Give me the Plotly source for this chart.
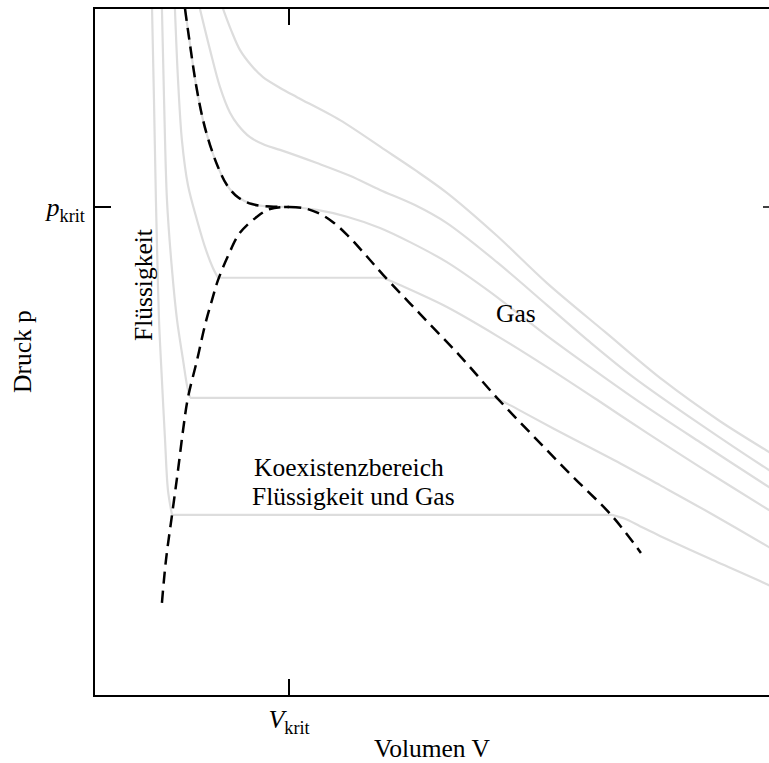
import plotly.graph_objects as go

# ---- data (V in units of V_krit, p in units of p_krit) ----
# subcritical isotherms (liquid branch, flat coexistence segment, gas branch)
T1_V = [0.294, 0.304, 0.314, 0.320, 0.330, 0.345, 0.361, 0.376, 0.397,
        2.665, 2.732, 2.809, 2.912, 3.170, 3.474, 3.515]
T1_p = [1.406, 1.219, 1.014, 0.912, 0.768, 0.645, 0.523, 0.420, 0.369,
        0.369, 0.361, 0.346, 0.326, 0.279, 0.225, 0.217]

T2_V = [0.345, 0.356, 0.371, 0.397, 0.423, 0.454, 0.474, 0.490,
        2.062, 2.139, 2.242, 2.397, 2.706, 2.912, 3.170, 3.474, 3.515]
T2_p = [1.406, 1.219, 1.014, 0.871, 0.768, 0.686, 0.635, 0.609,
        0.609, 0.594, 0.572, 0.539, 0.475, 0.430, 0.373, 0.303, 0.293]

T3_V = [0.412, 0.428, 0.448, 0.479, 0.526, 0.572, 0.608, 0.634,
        1.485, 1.572, 1.814, 2.072, 2.330, 2.588, 2.845, 3.119, 3.474, 3.515]
T3_p = [1.406, 1.260, 1.137, 1.045, 0.973, 0.912, 0.875, 0.855,
        0.855, 0.840, 0.795, 0.736, 0.672, 0.605, 0.537, 0.467, 0.379, 0.369]

# critical isotherm
T4_V = [0.464, 0.490, 0.521, 0.557, 0.593, 0.634, 0.680, 0.737, 0.809, 0.902, 1.000,
        1.144, 1.299, 1.469, 1.624, 1.814, 2.036, 2.330, 2.629, 2.845, 3.119, 3.474, 3.515]
T4_p = [1.406, 1.332, 1.250, 1.178, 1.127, 1.082, 1.045, 1.020, 1.006, 1.001, 1.000,
        0.994, 0.980, 0.957, 0.928, 0.887, 0.826, 0.736, 0.650, 0.590, 0.518, 0.426, 0.416]

# supercritical isotherms
T5_V = [0.541, 0.593, 0.644, 0.696, 0.737, 0.799, 0.876, 0.954, 1.144, 1.314, 1.469,
        1.649, 1.814, 2.072, 2.330, 2.552, 2.773, 3.119, 3.474, 3.515]
T5_p = [1.406, 1.322, 1.246, 1.193, 1.168, 1.143, 1.127, 1.117, 1.090, 1.064, 1.035,
        1.004, 0.967, 0.887, 0.799, 0.723, 0.652, 0.555, 0.461, 0.451]

T6_V = [0.660, 0.701, 0.747, 0.804, 0.866, 0.954, 1.041, 1.263, 1.495, 1.649,
        1.814, 2.072, 2.330, 2.629, 2.928, 3.222, 3.474, 3.515]
T6_p = [1.406, 1.363, 1.322, 1.291, 1.266, 1.244, 1.225, 1.178, 1.117, 1.076,
        1.029, 0.941, 0.844, 0.744, 0.645, 0.561, 0.498, 0.488]

# coexistence curve (binodal)
liq_V = [0.345, 0.366, 0.397, 0.428, 0.454, 0.479, 0.526, 0.567, 0.603, 0.634, 0.686,
         0.747, 0.835, 0.902, 1.000]
liq_p = [0.189, 0.277, 0.369, 0.461, 0.543, 0.609, 0.686, 0.758, 0.809, 0.850, 0.900,
         0.947, 0.980, 0.996, 1.000]
gas_V = [1.000, 1.072, 1.149, 1.227, 1.304, 1.381, 1.485, 1.675, 1.881, 2.072, 2.268,
         2.464, 2.665, 2.814]
gas_p = [1.000, 0.998, 0.988, 0.969, 0.941, 0.908, 0.861, 0.781, 0.695, 0.609, 0.527,
         0.447, 0.367, 0.291]

V_krit = 1.0
p_krit = 1.0
x_tick_text = ["<i>V</i><sub>krit</sub>"]
y_tick_text = ["<i>p</i><sub>krit</sub>"]

# ---- figure ----
FONT = "Liberation Serif, Times New Roman, serif"
GRAY = "rgb(221,221,221)"
fig = go.Figure()


def gray_line(V, p, shape="spline"):
    fig.add_trace(go.Scatter(x=V, y=p, mode="lines",
                             line=dict(color=GRAY, width=2.2, shape=shape, smoothing=0.9),
                             hoverinfo="skip", showlegend=False))


for V, p in [(T1_V, T1_p), (T2_V, T2_p), (T3_V, T3_p)]:
    k = next(i for i in range(len(p) - 1) if p[i] == p[i + 1])
    gray_line(V[:k + 1], p[:k + 1])
    gray_line(V[k:k + 2], p[k:k + 2], shape="linear")
    gray_line(V[k + 1:], p[k + 1:])

for V, p in [(T4_V, T4_p), (T5_V, T5_p), (T6_V, T6_p)]:
    gray_line(V, p)

DASH = dict(color="black", width=2.5, dash="12px,7px", shape="spline", smoothing=1.0)
n_left = T4_V.index(V_krit) + 1
for V, p in [(T4_V[:n_left], T4_p[:n_left]), (liq_V, liq_p), (gas_V, gas_p)]:
    fig.add_trace(go.Scatter(x=V, y=p, mode="lines", line=DASH,
                             hoverinfo="skip", showlegend=False))

W, H = 769, 763
L, R, T, B = 95, 0, 9, 68
plot_w = W - L - R
plot_h = H - T - B
x_range = [0, plot_w / 194]
y_range = [0, plot_h / 488]

axis_common = dict(showgrid=False, zeroline=False, showline=True, linecolor="black",
                   linewidth=2, ticks="inside", ticklen=16, tickwidth=1.5, tickcolor="black",
                   tickfont=dict(family=FONT, size=26, color="black"))

fig.update_xaxes(range=x_range, tickvals=[V_krit], ticktext=x_tick_text, mirror="ticks",
                 **axis_common)
fig.update_yaxes(range=y_range, tickvals=[p_krit], ticktext=y_tick_text, mirror=False,
                 ticklabelstandoff=3, **axis_common)

# short right-hand tick at p_krit (the right frame edge lies at the window border)
fig.add_shape(type="line", xref="paper", yref="y", x0=1 - 6 / plot_w, x1=1,
              y0=p_krit, y1=p_krit, line=dict(color="black", width=1.5))

ann_font = dict(family=FONT, size=25.5, color="black")


def note(text, x, y, ref="data", angle=0):
    kw = dict(xref="paper", yref="paper") if ref == "paper" else {}
    fig.add_annotation(text=text, x=x, y=y, textangle=angle, showarrow=False,
                       xanchor="center", yanchor="middle", font=ann_font, **kw)


note("Druck p", -(L - 22) / plot_w, 0.5 - (352 - T - plot_h / 2) / plot_h, ref="paper", angle=-90)
note("Volumen V", (432 - L) / plot_w, -(748 - (H - B)) / plot_h, ref="paper")
note("Flüssigkeit", 0.247, 0.84, angle=-90)
note("Gas", 2.17, 0.781)
note("Koexistenzbereich", 1.309, 0.467)
note("Flüssigkeit und Gas", 1.330, 0.406)

fig.update_layout(width=W, height=H, margin=dict(l=L, r=R, t=T, b=B, autoexpand=False),
                  paper_bgcolor="white", plot_bgcolor="white", showlegend=False,
                  font=dict(family=FONT, color="black"))

fig.write_html("out.html", config={"displayModeBar": False},
               post_script="document.body.style.margin='0';document.body.style.overflow='hidden';")
